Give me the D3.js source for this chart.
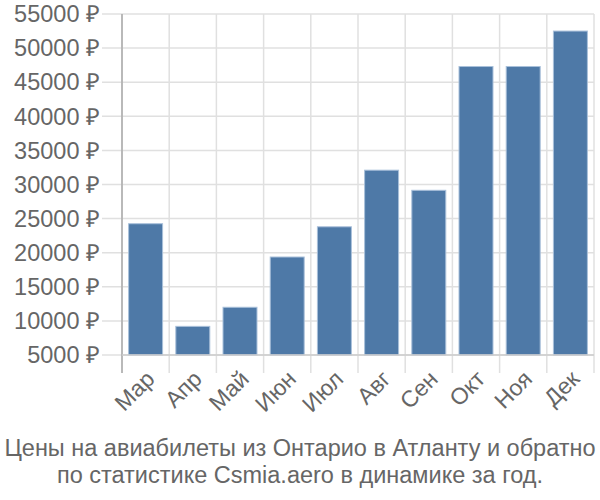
<!DOCTYPE html>
<html><head><meta charset="utf-8">
<script src="https://cdn.jsdelivr.net/npm/d3@7"></script>
<style>body{margin:0;background:#fff}</style>
</head><body><svg id="c" width="600" height="500"></svg>
<script>
const months = ["Мар","Апр","Май","Июн","Июл","Авг","Сен","Окт","Ноя","Дек"];
const prices = [24250,9200,12000,19370,23800,32100,29150,47300,47300,52500];
const yTicks = [5000,10000,15000,20000,25000,30000,35000,40000,45000,50000,55000];
const titleLines = ["Цены на авиабилеты из Онтарио в Атланту и обратно","по статистике Csmia.aero в динамике за год."];

const FONT = "'Liberation Sans', Arial, sans-serif";
const svg = d3.select("#c");
const L=122,R=594,T=14,B=355;
const x = d3.scaleBand().domain(months).range([L,R]).paddingInner(0.28).paddingOuter(0.14);
const y = d3.scaleLinear().domain([5000,55000]).range([B,T]);
const step = x.step();

svg.append("g").selectAll("line").data(yTicks).join("line")
  .attr("x1",L-20).attr("x2",R).attr("y1",d=>y(d)).attr("y2",d=>y(d))
  .attr("stroke","#e0e0e0").attr("stroke-width",1.5);
const vx = months.map((m,i)=>L+i*step).concat([R]);
svg.append("g").selectAll("line").data(vx).join("line")
  .attr("x1",d=>d).attr("x2",d=>d).attr("y1",T).attr("y2",B+18)
  .attr("stroke","#e0e0e0").attr("stroke-width",1.5);

svg.append("g").selectAll("rect").data(prices).join("rect")
  .attr("x",(d,i)=>x(months[i])).attr("width",x.bandwidth())
  .attr("y",d=>y(d)).attr("height",d=>B-y(d))
  .attr("fill","#4e79a7").attr("stroke","#a9c0da").attr("stroke-width",1);

svg.append("line").attr("x1",L).attr("x2",L).attr("y1",T).attr("y2",B+18).attr("stroke","#aaa").attr("stroke-width",1.5);
svg.append("line").attr("x1",L).attr("x2",R).attr("y1",B).attr("y2",B).attr("stroke","#ccc").attr("stroke-width",1.5);

svg.append("g").selectAll("text").data(yTicks).join("text")
  .attr("x",100).attr("y",d=>y(d)).attr("dy","0.35em").attr("text-anchor","end")
  .attr("fill","#666").attr("font-family",FONT).attr("font-size",23.5).text(d=>d+" ₽");

svg.append("g").selectAll("text").data(months).join("text")
  .attr("transform",d=>`translate(${x(d)+x.bandwidth()/2-1},${B+14}) rotate(-45)`)
  .attr("text-anchor","end").attr("dy","0.7em")
  .attr("fill","#666").attr("font-family",FONT).attr("font-size",23).text(d=>d);

svg.append("g").selectAll("text").data(titleLines).join("text")
  .attr("x",300).attr("y",(d,i)=>456+i*27).attr("text-anchor","middle")
  .attr("fill","#666").attr("font-family",FONT).attr("font-size",23.5).text(d=>d);
</script></body></html>
